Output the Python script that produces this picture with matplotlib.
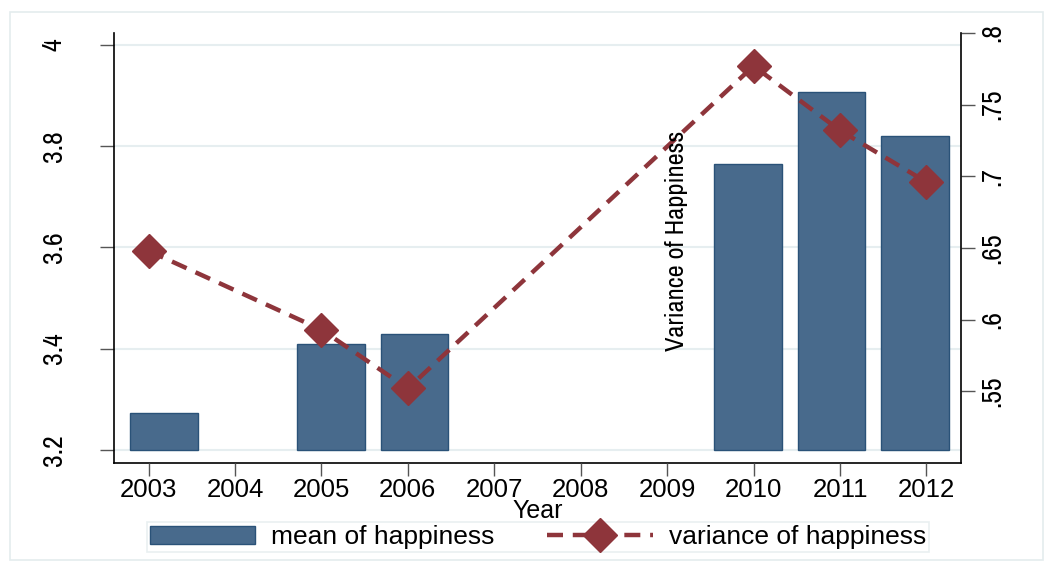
import matplotlib
matplotlib.use("Agg")
import matplotlib.pyplot as plt
from matplotlib.patches import Rectangle, Patch
from matplotlib.lines import Line2D

plt.rcParams['font.family'] = ['Liberation Sans', 'DejaVu Sans']
NARROW = ['Archivo Narrow', 'Roboto Condensed', 'Liberation Sans', 'DejaVu Sans']

years = [2003, 2004, 2005, 2006, 2007, 2008, 2009, 2010, 2011, 2012]
bar_years = [2003, 2005, 2006, 2010, 2011, 2012]
mean_happiness = [3.273, 3.409, 3.429, 3.765, 3.907, 3.820]
var_years = [2003, 2005, 2006, 2010, 2011, 2012]
var_happiness = [0.648, 0.593, 0.552, 0.777, 0.732, 0.696]
left_ticks = [3.2, 3.4, 3.6, 3.8, 4.0]
left_labels = ["3.2", "3.4", "3.6", "3.8", "4"]
right_ticks = [0.55, 0.6, 0.65, 0.7, 0.75, 0.8]
right_labels = [".55", ".6", ".65", ".7", ".75", ".8"]

bar_color = "#486a8c"
bar_edge = "#2a5278"
line_color = "#8e353b"
grid_color = "#e6eef0"
dash = (0, (3.6, 2.2))

W, H = 1053, 568
fig = plt.figure(figsize=(W / 100, H / 100), dpi=100)

# outer frame
fig.patches.append(Rectangle((10 / W, 1 - 560 / H), 1033 / W, 548 / H,
                             transform=fig.transFigure, fill=False,
                             edgecolor="#e4ecee", linewidth=1.2))

x0, x1 = 114 / W, 961 / W
y0, y1 = 1 - 463 / H, 1 - 33 / H
rect = [x0, y0, x1 - x0, y1 - y0]

ax = fig.add_axes(rect)          # bars, left y axis
ax2 = fig.add_axes(rect)         # line, right y axis + x ticks
ax2.patch.set_visible(False)

# bars
ax.set_xlim(2002.40, 2012.55)
ax.set_ylim(3.174, 4.024)
for t in left_ticks:
    ax.axhline(t, color=grid_color, linewidth=1.5, zorder=0)
ax.bar(bar_years, [m - 3.2 for m in mean_happiness], bottom=3.2, width=0.81,
       color=bar_color, edgecolor=bar_edge, linewidth=1, zorder=2)
ax.set_yticks(left_ticks)
ax.set_yticklabels(left_labels, rotation=90, va="center", fontsize=20,
                   family=NARROW)
ax.tick_params(axis="y", length=10, width=1, color="#555555", pad=24)
ax.set_xticks([])
for s in ["top", "right"]:
    ax.spines[s].set_visible(False)
ax.spines["left"].set_linewidth(1.2)
ax.spines["bottom"].set_linewidth(1.2)

# line
ax2.set_xlim(2002.6, 2012.4)
ax2.set_ylim(0.5, 0.8)
ax2.plot(var_years, var_happiness, color=line_color, linewidth=3.2,
         linestyle=dash, marker="D", markersize=17,
         markerfacecolor=line_color, markeredgecolor=line_color, zorder=3)
ax2.yaxis.tick_right()
ax2.set_yticks(right_ticks)
ax2.set_yticklabels(right_labels, rotation=90, va="center", fontsize=20,
                    family=NARROW)
ax2.tick_params(axis="y", length=10, width=1, color="#555555", pad=4)
ax2.set_xticks(years)
ax2.set_xticklabels([str(y) for y in years], fontsize=18.5)
ax2.tick_params(axis="x", length=9, width=1, color="#555555", pad=2)
for s in ["top", "left"]:
    ax2.spines[s].set_visible(False)
ax2.spines["right"].set_linewidth(1.2)
ax2.spines["bottom"].set_visible(False)
ax2.set_xlabel("Year", fontsize=18, labelpad=-2)

# right axis title, placed inside the plot as in the reference
fig.text(676 / W, 1 - 241 / H, "Variance of Happiness", rotation=90,
         fontsize=19, ha="center", va="center", family=NARROW)

# legend
handles = [Patch(facecolor=bar_color, edgecolor=bar_edge, linewidth=1),
           Line2D([0], [0], color=line_color, linewidth=3.2,
                  linestyle=dash, marker="D", markersize=17)]
leg = fig.legend(handles, ["mean of happiness", "variance of happiness"],
                 loc="center", bbox_to_anchor=(538 / W, 1 - 537 / H),
                 ncol=2, fontsize=19, frameon=True, fancybox=False,
                 handlelength=4.0, handleheight=0.7, columnspacing=2.0,
                 borderpad=0.12, borderaxespad=0, handletextpad=0.6)
leg.get_frame().set_edgecolor("#e4ecee")
leg.get_frame().set_linewidth(1.2)

fig.savefig("out.png", dpi=100)
